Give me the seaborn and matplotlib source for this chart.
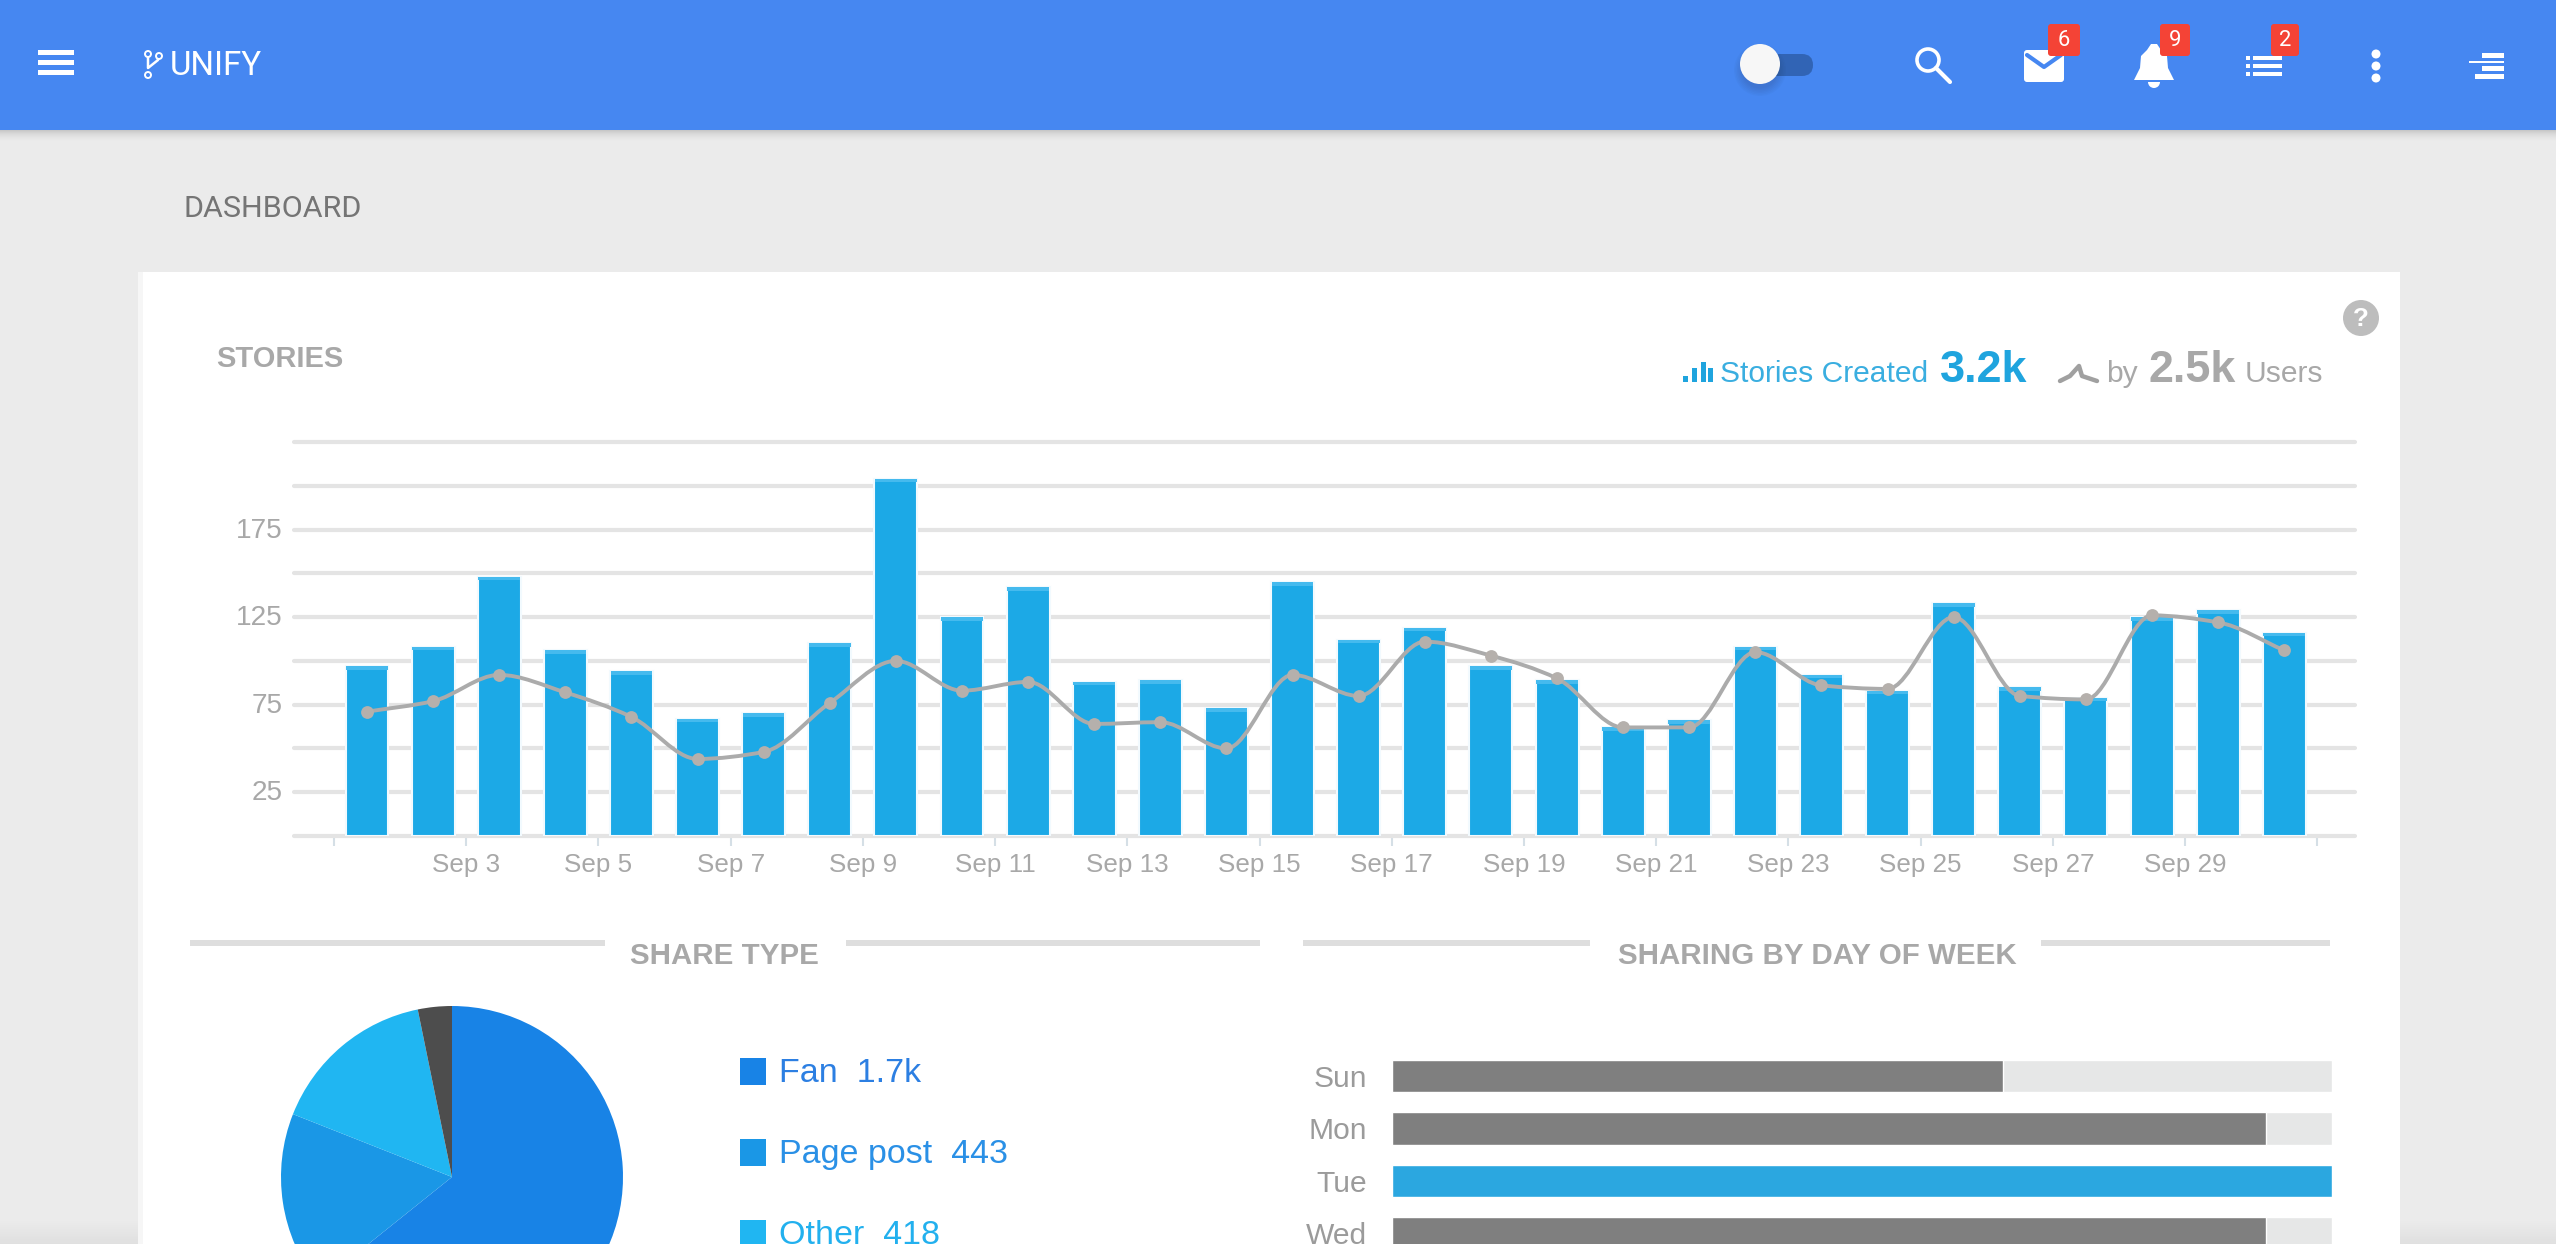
import numpy as np
import matplotlib
matplotlib.use('Agg')
import matplotlib.pyplot as plt
import seaborn as sns
from matplotlib.patches import Rectangle, Circle, FancyBboxPatch, PathPatch, Polygon, Wedge
from matplotlib.path import Path
from matplotlib.transforms import ScaledTranslation

W, H = 2556, 1244

# stories chart
day_labels = ['Sep %d' % d for d in range(1, 31)]
stories = [97, 108, 148, 106, 94, 67, 70, 110, 204, 125, 142, 88, 89, 73, 145,
           112, 119, 97, 89, 62, 66, 108, 92, 83, 133, 85, 79, 125, 129, 116]
users = [71, 77, 92, 82, 68, 44, 48, 76, 100, 83, 88, 64, 65, 50, 92,
         80, 111, 103, 90, 62, 62, 105, 86, 84, 125, 80, 78, 126, 122, 106]
y_ticks = [0, 25, 50, 75, 100, 125, 150, 175, 200, 225]
y_tick_labels = ['', '25', '', '75', '', '125', '', '175', '', '']
x_tick_labels = ['', 'Sep 3', 'Sep 5', 'Sep 7', 'Sep 9', 'Sep 11', 'Sep 13', 'Sep 15',
                 'Sep 17', 'Sep 19', 'Sep 21', 'Sep 23', 'Sep 25', 'Sep 27', 'Sep 29', '']

# share type pie
share_names = ['Fan', 'Page post', 'Other', 'Rest']
share_values = [1700, 443, 418, 85]
share_labels = ['1.7k', '443', '418']
share_colors = ['#1883E6', '#1A97E6', '#20B6F2', '#4D4D4D']

# sharing by day of week
week_days = ['Sun', 'Mon', 'Tue', 'Wed']
week_values = [65, 93, 100, 93]
week_colors = ['#7F7F7F', '#7F7F7F', '#2BA7E0', '#7F7F7F']

BLUE = '#4687F1'
GREY = '#A8A8A8'
GRID = '#E4E4E4'

sns.set_theme(style='white')
plt.rcParams['font.family'] = ['Liberation Sans', 'DejaVu Sans']

fig = plt.figure(figsize=(W / 100, H / 100), dpi=100, facecolor='#EBEBEB')


def px_axes(x0, y0, x1, y1, zorder=2):
    # axes placed by pixel box, y measured from the top of the image
    ax = fig.add_axes([x0 / W, 1 - y1 / H, (x1 - x0) / W, (y1 - y0) / H], zorder=zorder)
    ax.patch.set_alpha(0)
    return ax


def fs(px):
    return px * 0.72


# page chrome, in pixel coordinates
bg = px_axes(0, 0, W, H, zorder=0)
bg.set_xlim(0, W)
bg.set_ylim(H, 0)
bg.axis('off')

# bottom shadow and card
for i in range(24):
    bg.add_patch(Rectangle((0, H - 24 + i), W, 1, color='k', alpha=0.0022 * i, lw=0))
bg.add_patch(Rectangle((138, 272), 2400 - 138, H - 272, color='white', lw=0))
bg.add_patch(Rectangle((138, 272), 5, H - 272, color='#F6F6F6', lw=0))

# header
for i in range(12):
    bg.add_patch(Rectangle((0, 130 + i), W, 1, color='k', alpha=0.17 * (1 - i / 12) ** 2, lw=0))
bg.add_patch(Rectangle((0, 0), W, 130, color=BLUE, lw=0))

for y in (52, 62, 72):
    bg.add_patch(Rectangle((38, y - 2.5), 36, 5, color='white', lw=0))

# logo
bg.plot([148, 148, 158, 158], [56, 68, 60, 54], color='white', lw=1.8)
for cx, cy in ((148, 54), (159, 56), (148, 75)):
    bg.add_patch(Circle((cx, cy), 3, fc=BLUE, ec='white', lw=1.4, zorder=3))
bg.text(170, 66, 'UNIFY', color='white', fontsize=fs(33), family='Roboto', va='center')
bg.text(183, 209, 'DASHBOARD', color='#757575', fontsize=fs(30.5), family='Roboto', va='center')

# toggle
bg.add_patch(FancyBboxPatch((1750, 54), 63, 22, boxstyle='round,pad=0,rounding_size=11', fc='#3164B5', lw=0))
for i in range(6):
    bg.add_patch(Circle((1760, 70), 26 - i * 1.5, color='k', alpha=0.025, lw=0))
bg.add_patch(Circle((1760, 64), 20, color='#F7F7F7', lw=0))

# search
bg.add_patch(Circle((1928, 60), 11, fc='none', ec='white', lw=2.6))
bg.plot([1936, 1950], [68, 82], color='white', lw=3, solid_capstyle='round')

# mail
bg.add_patch(FancyBboxPatch((2024, 50), 40, 32, boxstyle='round,pad=0,rounding_size=3', fc='white', lw=0))
bg.plot([2027, 2044, 2061], [55, 67, 55], color=BLUE, lw=3)

# bell
bell = Polygon([(2134, 80), (2140, 68), (2141, 56), (2147, 50), (2151, 44), (2157, 44),
                (2161, 50), (2167, 56), (2168, 68), (2174, 80)], fc='white', lw=0)
bg.add_patch(bell)
bg.add_patch(Wedge((2154, 82), 6, 0, 180, fc='white', lw=0))

# list
for y in (58, 66, 74):
    bg.add_patch(Rectangle((2246, y - 2), 4, 4, color='white', lw=0))
    bg.add_patch(Rectangle((2253, y - 2), 29, 4, color='white', lw=0))

# badges
for x0, x1, txt in ((2048, 2080, '6'), (2160, 2190, '9'), (2271, 2299, '2')):
    bg.add_patch(FancyBboxPatch((x0, 24), x1 - x0, 32, boxstyle='round,pad=0,rounding_size=3',
                                fc='#F44336', lw=0, zorder=3))
    bg.text((x0 + x1) / 2, 41, txt, color='white', fontsize=fs(22), family='Roboto',
            ha='center', va='center', zorder=4)

# more dots
for y in (54, 66, 78):
    bg.add_patch(Circle((2376, y), 4.5, color='white', lw=0))

# right menu icon
for x0, y, h in ((2482, 55, 5), (2469, 62, 2), (2482, 68, 5), (2475, 76, 5)):
    bg.add_patch(Rectangle((x0, y - h / 2), 2504 - x0, h, color='white', lw=0))

# card titles
bg.text(216, 359, 'STORIES', color=GREY, fontsize=fs(29), weight='bold', va='center')

for x, h in ((1683, 6), (1692, 14), (1701, 20), (1708, 14)):
    bg.add_patch(Rectangle((x, 382 - h), 5, h, color='#1FA4DE', lw=0))
bg.text(1720, 382, 'Stories Created', color='#3AAEE0', fontsize=fs(30), va='baseline')
bg.text(1940, 382, '3.2k', color='#1FA4DE', fontsize=fs(45), weight='bold', va='baseline')
bg.plot([2060, 2070, 2079, 2082, 2097], [381, 376, 366, 376, 381], color='#A0A0A0', lw=3.2)
bg.text(2106, 382, 'by', color=GREY, fontsize=fs(30), va='baseline')
bg.text(2148, 382, '2.5k', color=GREY, fontsize=fs(45), weight='bold', va='baseline')
bg.text(2245, 382, 'Users', color=GREY, fontsize=fs(30), va='baseline')

bg.add_patch(Circle((2361, 318), 18, color='#BDBDBD', lw=0))
bg.text(2361, 319, '?', color='white', fontsize=fs(26), weight='bold', ha='center', va='center')

# section titles
for x0, x1 in ((190, 605), (846, 1260), (1303, 1590), (2041, 2330)):
    bg.add_patch(Rectangle((x0, 940), x1 - x0, 6, color='#DEDEDE', lw=0))
bg.text(724, 956, 'SHARE TYPE', color=GREY, fontsize=fs(29.5), weight='bold', ha='center', va='center')
bg.text(1817, 956, 'SHARING BY DAY OF WEEK', color=GREY, fontsize=fs(29.5), weight='bold', ha='center', va='center')

# stories chart
ax = px_axes(294, 442, 2355, 836)
sns.barplot(x=day_labels, y=stories, color='#1CA9E6', saturation=1, width=0.65,
            edgecolor='#F2FAFE', linewidth=1.5, ax=ax, zorder=3)
ax.bar(range(30), [2] * 30, bottom=[s - 2 for s in stories], width=0.63, color='#45BAEE', lw=0, zorder=4)

xs = np.arange(len(users), dtype=float)
ys = np.array(users, dtype=float)
# monotone cubic curve through the points
d = np.diff(ys)
m = np.zeros_like(ys)
for i in range(1, len(ys) - 1):
    if d[i - 1] * d[i] > 0:
        m[i] = 2 * d[i - 1] * d[i] / (d[i - 1] + d[i])
m[0], m[-1] = d[0], d[-1]
verts = [(xs[0], ys[0])]
codes = [Path.MOVETO]
for i in range(len(ys) - 1):
    verts += [(xs[i] + 1 / 3, ys[i] + m[i] / 3), (xs[i + 1] - 1 / 3, ys[i + 1] - m[i + 1] / 3), (xs[i + 1], ys[i + 1])]
    codes += [Path.CURVE4] * 3
ax.add_patch(PathPatch(Path(verts, codes), fc='none', ec='#ABABAB', lw=2.8, zorder=5))
sns.scatterplot(x=xs, y=ys, color='#B5B0AC', s=85, linewidth=0, ax=ax, zorder=6, legend=False)

ax.set_xlim(-1.104, 30.07)
ax.set_ylim(0, 225)
ax.set_yticks(y_ticks, y_tick_labels)
ax.set_xticks(np.arange(-0.5, 30, 2), x_tick_labels)
ax.grid(axis='y', color=GRID, lw=3, zorder=0)
ax.set_axisbelow(True)
for ln in ax.get_ygridlines():
    ln.set_clip_on(False)
ax.grid(axis='x', visible=False)
sns.despine(ax=ax, left=True, bottom=True)
ax.tick_params(axis='y', length=0, pad=8, labelsize=fs(28), labelcolor=GREY)
ax.tick_params(axis='x', length=7, width=1.5, color='#D5DFE6', pad=5, labelsize=fs(26), labelcolor=GREY, bottom=True)
for lab in ax.get_yticklabels():
    lab.set_transform(lab.get_transform() + ScaledTranslation(0, 2 / 100, fig.dpi_scale_trans))
ax.set_xlabel('')
ax.set_ylabel('')

# pie, cut off by the bottom of the page
pie_ax = px_axes(452 - 171, 1177 - 171, 452 + 171, 1177 + 171)
pie_ax.pie(share_values, colors=share_colors, startangle=90, counterclock=False, radius=1.0,
           wedgeprops={'linewidth': 0})
pie_ax.set_xlim(-1, 1)
pie_ax.set_ylim(-1, 1)

legend_rows = [1071, 1152, 1233]
legend_colors = ['#2C7FE2', '#2A90E6', '#22B0EE']
for name, val, c, y, sq in zip(share_names, share_labels, legend_colors, legend_rows, share_colors):
    bg.add_patch(Rectangle((740, y - 13.5), 26, 27, color=sq, lw=0))
    bg.text(779, y + 3, '%s  %s' % (name, val), color=c, fontsize=fs(34), va='center')

# day of week bars
bar_ax = px_axes(1392, 1050, 2332, 1244)
sns.barplot(x=[100] * len(week_days), y=week_days, color='#E6E7E7', saturation=1, width=0.61, ax=bar_ax)
sns.barplot(x=week_values, y=week_days, hue=week_days, palette=week_colors, saturation=1,
            width=0.61, legend=False, ax=bar_ax)
bar_ax.set_xlim(0, 100)
bar_ax.set_ylim(3.2, -0.495)
bar_ax.set_xticks([])
bar_ax.set_xlabel('')
bar_ax.set_ylabel('')
sns.despine(ax=bar_ax, left=True, bottom=True)
bar_ax.tick_params(axis='y', length=0, pad=18, labelsize=fs(30), labelcolor='#9B9B9B')

fig.savefig('out.png', dpi=100, facecolor=fig.get_facecolor())
